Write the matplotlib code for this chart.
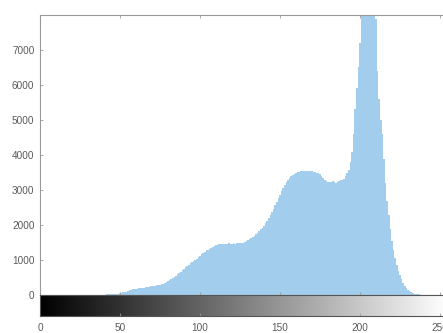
import numpy as np
import matplotlib
matplotlib.use("Agg")
import matplotlib.pyplot as plt

# grey levels 0..255 and the pixel counts
levels = np.arange(256)
counts = (
    [0] * 40
    + [10, 10, 15, 15, 20, 20, 25, 25, 30, 30]                            # 40-49
    + [60, 70, 80, 90, 100, 115, 130, 145, 160, 175]                      # 50-59
    + [180, 185, 190, 195, 200, 210, 220, 230, 240, 250]                  # 60-69
    + [255, 260, 270, 280, 290, 300, 305, 310, 340, 370]                  # 70-79
    + [400, 430, 460, 490, 520, 550, 590, 630, 670, 710]                  # 80-89
    + [750, 790, 830, 870, 910, 950, 970, 1000, 1040, 1080]               # 90-99
    + [1120, 1160, 1200, 1240, 1280, 1300, 1320, 1350, 1380, 1410]        # 100-109
    + [1430, 1440, 1450, 1460, 1460, 1470, 1460, 1470, 1480, 1470]        # 110-119
    + [1470, 1480, 1470, 1480, 1490, 1480, 1490, 1500, 1510, 1540]        # 120-129
    + [1560, 1590, 1620, 1660, 1690, 1730, 1780, 1830, 1880, 1920]        # 130-139
    + [1980, 2050, 2120, 2200, 2280, 2370, 2460, 2560, 2660, 2760]        # 140-149
    + [2860, 2960, 3050, 3140, 3220, 3290, 3350, 3400, 3440, 3470]        # 150-159
    + [3490, 3510, 3520, 3530, 3540, 3540, 3550, 3540, 3550, 3530]        # 160-169
    + [3540, 3520, 3510, 3500, 3480, 3450, 3400, 3350, 3300, 3260]        # 170-179
    + [3240, 3220, 3230, 3250, 3220, 3200, 3230, 3260, 3290, 3300]        # 180-189
    + [3320, 3400, 3500, 3560, 3800, 4100, 4600, 5300, 5900, 6500]        # 190-199
    + [7200, 8200, 9500, 10500, 11000, 11200, 10800, 10200, 9500, 8800]   # 200-209
    + [7900, 6400, 5600, 5000, 4600, 3900, 3200, 2700, 2300, 1900]        # 210-219
    + [1550, 1300, 1050, 850, 680, 560, 450, 350, 270, 200]               # 220-229
    + [150, 110, 80, 55, 40, 30, 20, 15, 10, 5]                           # 230-239
    + [0] * 16
)
x_ticks = [0, 50, 100, 150, 200, 250]
y_ticks = [0, 1000, 2000, 3000, 4000, 5000, 6000, 7000]

BAR = "#a2cdec"
FRAME = "#9a9a9a"
LABEL = "#5a5a5a"
plt.rcParams["font.family"] = ["Liberation Sans", "DejaVu Sans"]

W, H = 443, 333
fig = plt.figure(figsize=(W / 100, H / 100), dpi=100)

left = 40 / W
width = 408 / W
ax = fig.add_axes([left, (H - 295) / H, width, 280 / H])
cax = fig.add_axes([left, (H - 316) / H, width, 21 / H])

ax.bar(levels, counts, width=1.0, color=BAR, edgecolor="none", align="center")
ax.set_xlim(0, 255)
ax.set_ylim(0, 8000)
ax.set_yticks(y_ticks)
ax.set_xticks(x_ticks)
ax.tick_params(axis="x", which="both", direction="in", top=True, bottom=True,
               labelbottom=False, length=2.5, color=FRAME, width=0.6)
ax.tick_params(axis="y", direction="in", length=2.5, color=FRAME, width=0.6,
               labelsize=7.2, labelcolor=LABEL, pad=4)
for s in ax.spines.values():
    s.set_color(FRAME)
    s.set_linewidth(0.8)
ax.spines["right"].set_visible(False)

# grey-level strip under the histogram
grad = np.linspace(0, 255, 256)[None, :]
cax.imshow(grad, cmap="gray", aspect="auto", extent=(0, 255, 0, 1),
           vmin=0, vmax=255)
cax.set_xlim(0, 255)
cax.set_yticks([])
cax.set_xticks(x_ticks)
cax.tick_params(axis="x", direction="in", length=2.5, color=FRAME, width=0.6,
                labelsize=7.2, labelcolor=LABEL, pad=5)
for s in cax.spines.values():
    s.set_color("#555555")
    s.set_linewidth(0.8)

fig.savefig("out.png", dpi=100)
